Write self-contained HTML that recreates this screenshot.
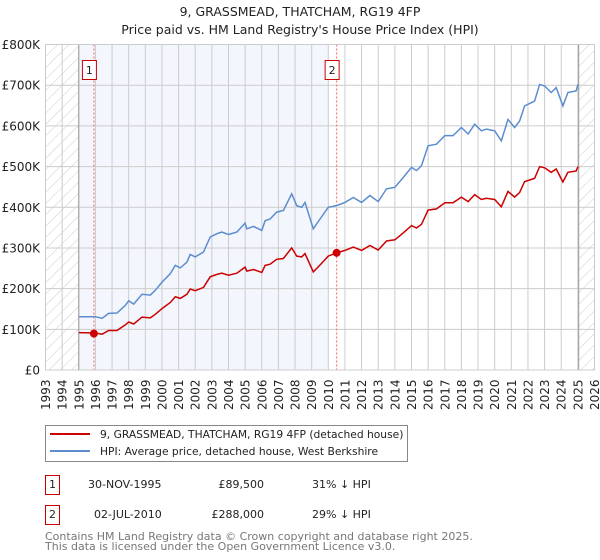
<!DOCTYPE html>
<html><head><meta charset="utf-8"><style>
body{margin:0;background:#fff;font-family:"DejaVu Sans","Liberation Sans",sans-serif;}
svg{display:block}
</style></head><body>
<svg id="c" width="600" height="560" xmlns="http://www.w3.org/2000/svg" font-family="DejaVu Sans, Liberation Sans, sans-serif">
<defs><pattern id="hatch" width="8" height="8" patternUnits="userSpaceOnUse" patternTransform="rotate(45)"><line x1="0" y1="0" x2="0" y2="8" stroke="#ccc" stroke-width="1"/></pattern></defs>
<text x="300" y="16" text-anchor="middle" font-size="12.5" fill="#222">9, GRASSMEAD, THATCHAM, RG19 4FP</text>
<text x="300" y="34" text-anchor="middle" font-size="12.5" fill="#222">Price paid vs. HM Land Registry's House Price Index (HPI)</text>
<g id="plot"></g>
<g>
<rect x="45.5" y="425.5" width="362" height="36" fill="#fff" stroke="#888"/>
<line x1="50" y1="434" x2="90" y2="434" stroke="#cc0000" stroke-width="2"/>
<text x="100" y="438" font-size="10.7" fill="#222">9, GRASSMEAD, THATCHAM, RG19 4FP (detached house)</text>
<line x1="50" y1="451" x2="90" y2="451" stroke="#5b8dd0" stroke-width="2"/>
<text x="100" y="455" font-size="10.7" fill="#222">HPI: Average price, detached house, West Berkshire</text>
</g>
<g font-size="11" fill="#222">
<rect x="45.5" y="475.5" width="14" height="19" fill="#fff" stroke="#cc0000"/>
<text x="52.5" y="488" text-anchor="middle">1</text>
<text x="88" y="488">30-NOV-1995</text>
<text x="264" y="488" text-anchor="end">£89,500</text>
<text x="312" y="488">31% ↓ HPI</text>
<rect x="45.5" y="505.5" width="14" height="19" fill="#fff" stroke="#cc0000"/>
<text x="52.5" y="518" text-anchor="middle">2</text>
<text x="94" y="518">02-JUL-2010</text>
<text x="264" y="518" text-anchor="end">£288,000</text>
<text x="312" y="518">29% ↓ HPI</text>
</g>
<text x="45" y="540" font-size="11" fill="#777">Contains HM Land Registry data © Crown copyright and database right 2025.</text>
<text x="45" y="550" font-size="11" fill="#777">This data is licensed under the Open Government Licence v3.0.</text>
</svg>
<script>
const years=[1995.0,1996.0,1996.4,1996.8,1997.3,1997.8,1998.0,1998.3,1998.8,1999.3,1999.6,2000.0,2000.5,2000.8,2001.1,2001.5,2001.7,2002.0,2002.5,2002.9,2003.3,2003.6,2004.0,2004.5,2005.0,2005.1,2005.5,2006.0,2006.2,2006.5,2006.9,2007.3,2007.8,2008.1,2008.4,2008.6,2009.1,2009.5,2010.0,2010.5,2011.0,2011.5,2012.0,2012.5,2013.0,2013.5,2014.0,2014.5,2015.0,2015.3,2015.6,2016.0,2016.5,2017.0,2017.5,2018.0,2018.4,2018.8,2019.2,2019.5,2020.0,2020.4,2020.8,2021.2,2021.5,2021.8,2022.4,2022.7,2023.0,2023.4,2023.7,2024.1,2024.4,2024.9,2025.0];
const hpi=[131,131,127,139,140,159,170,162,186,184,196,216,237,257,251,265,284,278,290,327,335,339,333,339,361,347,353,343,367,371,388,392,433,404,400,412,347,371,400,404,412,424,412,429,414,445,449,473,498,490,502,551,555,576,576,596,580,604,588,592,588,563,616,596,612,649,661,702,698,682,694,649,682,686,702];
const prop=[92,91,88,97,97,111,118,113,130,128,137,151,166,180,176,186,199,195,203,229,235,238,233,238,253,243,247,240,257,260,272,274,300,280,278,286,241,258,280,288,294,302,294,306,295,317,320,337,355,349,358,393,396,411,411,425,414,431,419,422,419,401,439,425,436,463,471,500,497,486,494,462,486,489,500];
const yTicks=[0,100,200,300,400,500,600,700,800];
const yLabels=["£0","£100K","£200K","£300K","£400K","£500K","£600K","£700K","£800K"];
const sales=[{t:1995.91,v:89.5,n:"1"},{t:2010.5,v:288,n:"2"}];
const NS="http://www.w3.org/2000/svg";
const L=45.5,R=594.5,T=44.5,B=370;
const X=t=>L+(t-1993)*(R-L)/33;
const Y=v=>B-v*(B-T)/800;
const g=document.getElementById('plot');
function el(tag,attrs,parent){const e=document.createElementNS(NS,tag);for(const k in attrs)e.setAttribute(k,attrs[k]);(parent||g).appendChild(e);return e;}
let e;
e=el('rect',{x:X(1995),y:T,width:X(2010.0)-X(1995),height:B-T,fill:'#f3f6fd'});


e=el('rect',{x:L,y:T,width:X(1995)-L,height:B-T,fill:'url(#hatch)'});


e=el('rect',{x:X(2025.05),y:T,width:R-X(2025.05),height:B-T,fill:'url(#hatch)'});


for(let yr=1993;yr<=2026;yr++){
 e=el('line',{x1:X(yr),x2:X(yr),y1:T,y2:B,stroke:'#ccc','stroke-width':1});
 
 
 const tx=X(yr)+4.5;
 e=el('text',{x:0,y:0,transform:`translate(${tx},${B+40}) rotate(-90)`,'font-size':12,fill:'#222'});
 e.textContent=yr;
 
 
}
yTicks.forEach((v,i)=>{
 e=el('line',{x1:L,x2:R,y1:Y(v),y2:Y(v),stroke:'#ccc','stroke-width':1});
 
 
 e=el('text',{x:40,y:Y(v)+4.5,'text-anchor':'end','font-size':12,fill:'#222'});
 e.textContent=yLabels[i];
 
 
});
e=el('line',{x1:X(1995),x2:X(1995),y1:T,y2:B,stroke:'#999','stroke-width':1});


e=el('line',{x1:X(2025.05),x2:X(2025.05),y1:T,y2:B,stroke:'#999','stroke-width':1});


sales.forEach(s=>{
 e=el('line',{x1:X(s.t),x2:X(s.t),y1:T,y2:B,stroke:'#f66','stroke-width':1,'stroke-dasharray':'2,2'});
 
 
});
const pts=a=>years.map((t,i)=>X(t).toFixed(1)+','+Y(a[i]).toFixed(1)).join(' ');
e=el('polyline',{points:pts(hpi),fill:'none',stroke:'#5b8dd0','stroke-width':1.5});


e=el('polyline',{points:pts(prop),fill:'none',stroke:'#cc0000','stroke-width':1.5});


sales.forEach(s=>{
 e=el('circle',{cx:X(s.t),cy:Y(s.v),r:4,fill:'#cc0000'});
 
 
 e=el('rect',{x:X(s.t)-11.5,y:60.5,width:14,height:19,fill:'#fff',stroke:'#cc0000'});
 
 
 e=el('text',{x:X(s.t)-4.5,y:74,'text-anchor':'middle','font-size':11,fill:'#222'});
 e.textContent=s.n;
 
 
});
e=el('rect',{x:L,y:T,width:R-L,height:B-T,fill:'none',stroke:'#ccc'});


</script>
</body></html>
